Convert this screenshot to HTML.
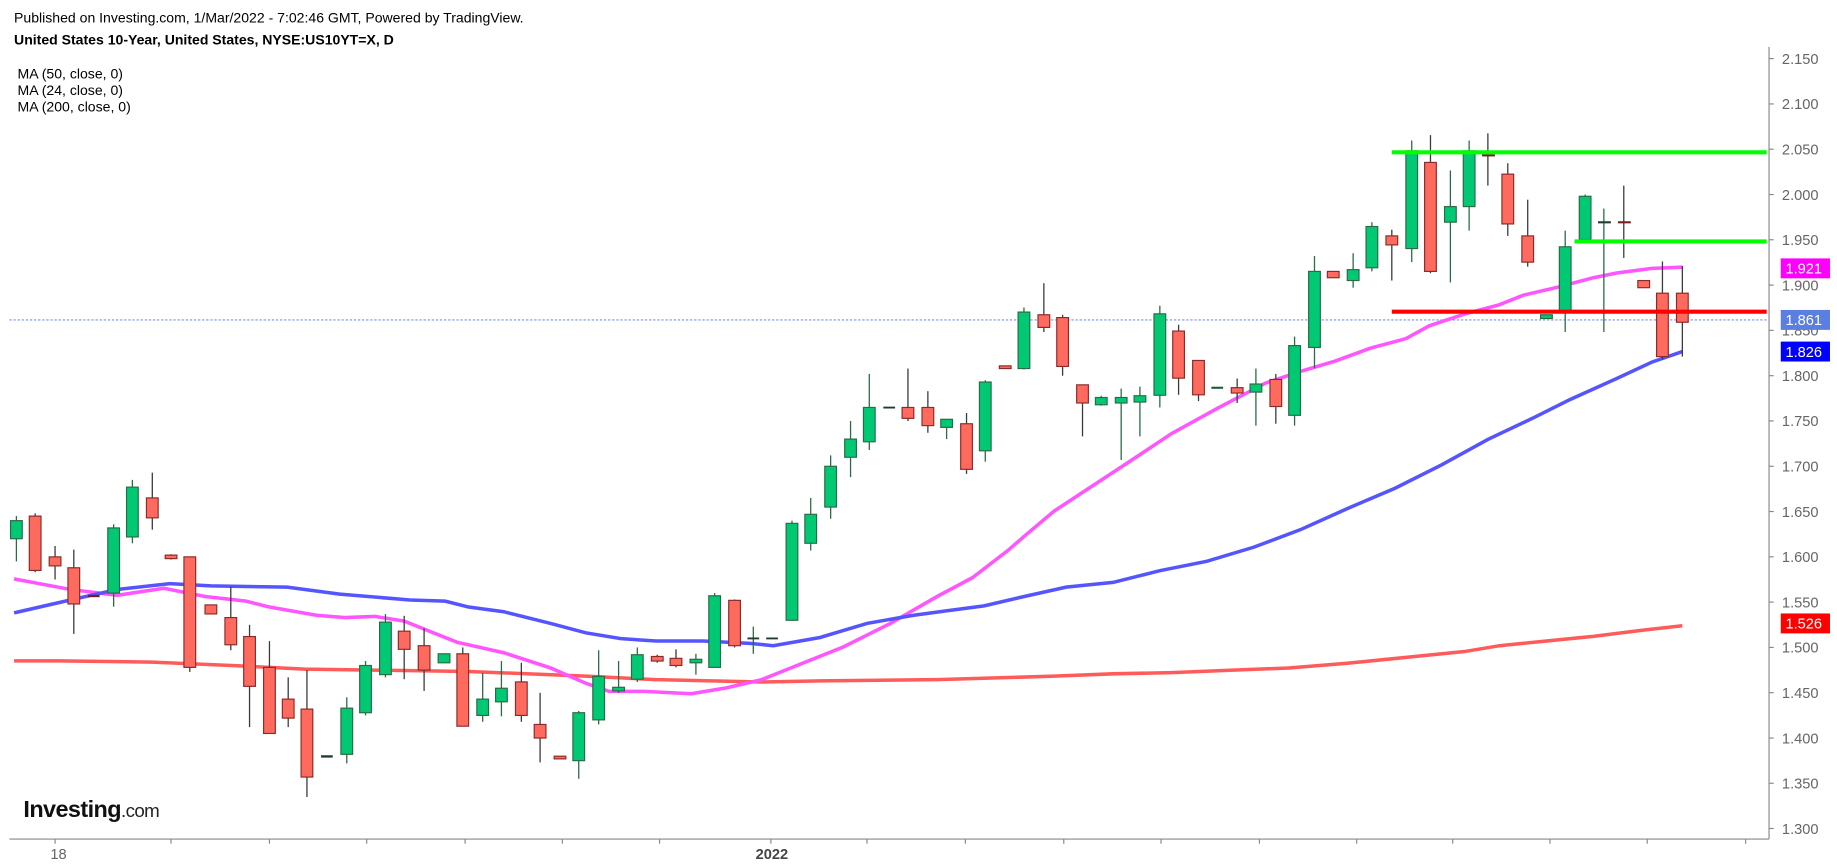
<!DOCTYPE html>
<html><head><meta charset="utf-8"><style>
html,body{margin:0;padding:0;background:#fff;}
svg{display:block;font-family:"Liberation Sans",Arial,sans-serif;}
.w{stroke-width:1.2}
.g{fill:#00c873;stroke:#2a6b45;stroke-width:1}
.r{fill:#ff6a5f;stroke:#8b2a2a;stroke-width:1}
.gw{stroke:#2a6b45;stroke-width:1.1}
.rw{stroke:#3a3a3a;stroke-width:1.1}
.ax{fill:#666;font-size:12.5px}
</style></head><body>
<svg width="1837" height="866" viewBox="0 0 1568 739" preserveAspectRatio="none" xmlns="http://www.w3.org/2000/svg">
<rect width="1568" height="739" fill="#fff"/>
<text x="12" y="19" font-size="12" fill="#000">Published on Investing.com, 1/Mar/2022 - 7:02:46 GMT, Powered by TradingView.</text>
<text x="12" y="38" font-size="12" font-weight="bold" fill="#000">United States 10-Year, United States, NYSE:US10YT=X, D</text>
<text x="15" y="67" font-size="12" fill="#000">MA (50, close, 0)</text>
<text x="15" y="81" font-size="12" fill="#000">MA (24, close, 0)</text>
<text x="15" y="95" font-size="12" fill="#000">MA (200, close, 0)</text>

<!-- axes -->
<line x1="1510" y1="40" x2="1510" y2="716" stroke="#888" stroke-width="1"/>
<line x1="8" y1="716" x2="1510" y2="716" stroke="#888" stroke-width="1"/>
<g stroke="#888">
<line x1="1510" y1="50" x2="1514" y2="50"/><line x1="1510" y1="88.7" x2="1514" y2="88.7"/><line x1="1510" y1="127.3" x2="1514" y2="127.3"/><line x1="1510" y1="166" x2="1514" y2="166"/><line x1="1510" y1="204.6" x2="1514" y2="204.6"/><line x1="1510" y1="243.3" x2="1514" y2="243.3"/><line x1="1510" y1="281.9" x2="1514" y2="281.9"/><line x1="1510" y1="320.6" x2="1514" y2="320.6"/><line x1="1510" y1="359.2" x2="1514" y2="359.2"/><line x1="1510" y1="397.9" x2="1514" y2="397.9"/><line x1="1510" y1="436.5" x2="1514" y2="436.5"/><line x1="1510" y1="475.2" x2="1514" y2="475.2"/><line x1="1510" y1="513.8" x2="1514" y2="513.8"/><line x1="1510" y1="552.5" x2="1514" y2="552.5"/><line x1="1510" y1="591.1" x2="1514" y2="591.1"/><line x1="1510" y1="629.8" x2="1514" y2="629.8"/><line x1="1510" y1="668.4" x2="1514" y2="668.4"/><line x1="1510" y1="707" x2="1514" y2="707"/>
<line x1="47" y1="716" x2="47" y2="720"/><line x1="146" y1="716" x2="146" y2="720"/><line x1="230" y1="716" x2="230" y2="720"/><line x1="313" y1="716" x2="313" y2="720"/><line x1="397" y1="716" x2="397" y2="720"/><line x1="480" y1="716" x2="480" y2="720"/><line x1="563" y1="716" x2="563" y2="720"/><line x1="658" y1="716" x2="658" y2="720"/><line x1="740" y1="716" x2="740" y2="720"/><line x1="824" y1="716" x2="824" y2="720"/><line x1="908" y1="716" x2="908" y2="720"/><line x1="991" y1="716" x2="991" y2="720"/><line x1="1075" y1="716" x2="1075" y2="720"/><line x1="1158" y1="716" x2="1158" y2="720"/><line x1="1240" y1="716" x2="1240" y2="720"/><line x1="1323" y1="716" x2="1323" y2="720"/><line x1="1406" y1="716" x2="1406" y2="720"/><line x1="1490" y1="716" x2="1490" y2="720"/>
</g>
<g class="ax">
<text x="1521" y="54.5">2.150</text><text x="1521" y="93">2.100</text><text x="1521" y="131.8">2.050</text><text x="1521" y="170.5">2.000</text><text x="1521" y="209">1.950</text><text x="1521" y="247.8">1.900</text><text x="1521" y="286.4">1.850</text><text x="1521" y="325">1.800</text><text x="1521" y="363.7">1.750</text><text x="1521" y="402.4">1.700</text><text x="1521" y="441">1.650</text><text x="1521" y="479.7">1.600</text><text x="1521" y="518.3">1.550</text><text x="1521" y="557">1.500</text><text x="1521" y="595.6">1.450</text><text x="1521" y="634.3">1.400</text><text x="1521" y="672.9">1.350</text><text x="1521" y="711.5">1.300</text>
<text x="43" y="733">18</text>
<text x="645" y="733" font-weight="bold" fill="#444">2022</text>
</g>

<!-- dotted last price -->
<line x1="8" y1="273" x2="1510" y2="273" stroke="#7a90ee" stroke-width="1" stroke-dasharray="2,1.5"/>

<!-- MAs -->
<polyline fill="none" stroke="#ff5b5b" stroke-width="3" points="12,564 50,564 130,565 200,568 260,571 330,572 400,573 500,577 560,580 650,582 700,581 800,580 900,577 950,575 1000,574 1050,572 1100,570 1150,566 1200,561 1250,556 1280,551 1320,547 1360,543 1400,538 1436,534"/>
<polyline fill="none" stroke="#ff55ff" stroke-width="3" points="12,494 60,503 100,508 140,502 175,509 210,513 230,518 270,525 295,527 320,526 345,530 390,548 430,557 470,570 500,583 520,590 550,590 590,592 620,587 650,580 680,568 720,552 760,532 800,509 830,493 860,470 875,457 900,436 935,413 970,390 1000,370 1040,348 1080,327 1110,317 1140,308 1170,297 1200,289 1220,278 1250,268 1280,260 1300,252 1330,245 1360,237 1380,233 1410,229 1436,228"/>
<polyline fill="none" stroke="#5555ff" stroke-width="3" points="12,523 60,512 100,503 145,498 180,500 245,501 290,507 350,512 380,513 400,518 430,522 470,532 500,540 530,545 560,547 600,547 640,549 660,551 700,544 740,532 780,525 810,521 840,517 870,510 910,501 950,497 970,492 990,487 1030,479 1070,467 1110,452 1150,434 1190,417 1230,397 1270,375 1310,356 1340,341 1380,323 1410,309 1436,300"/>

<!-- candles -->
<g>
<line class="gw" x1="14" y1="440.4" x2="14" y2="479.1"/><rect class="g" x="9" y="444.3" width="10" height="15.4"/>
<line class="rw" x1="30" y1="438.1" x2="30" y2="488.3"/><rect class="r" x="25" y="440.4" width="10" height="46.4"/>
<line class="rw" x1="47" y1="465.9" x2="47" y2="494.5"/><rect class="r" x="42" y="475.2" width="10" height="7.7"/>
<line class="rw" x1="63" y1="469" x2="63" y2="540.9"/><rect class="r" x="58" y="484.5" width="10" height="30.9"/>
<rect x="75" y="507.6" width="10" height="2" fill="#7a1f1f"/>
<line class="gw" x1="97" y1="447.4" x2="97" y2="517.7"/><rect class="g" x="92" y="450.5" width="10" height="55.6"/>
<line class="gw" x1="113" y1="409.5" x2="113" y2="463.6"/><rect class="g" x="108" y="415.7" width="10" height="42.5"/>
<line class="rw" x1="130" y1="403.3" x2="130" y2="452"/><rect class="r" x="125" y="424.9" width="10" height="17"/>
<line class="rw" x1="146" y1="472.9" x2="146" y2="477.5"/><rect class="r" x="141" y="473.7" width="10" height="3"/>
<line class="rw" x1="162" y1="475.2" x2="162" y2="573.4"/><rect class="r" x="157" y="475.2" width="10" height="94.3"/>
<rect class="r" x="175" y="516.2" width="10" height="7.7"/>
<line class="rw" x1="197" y1="500.7" x2="197" y2="554.9"/><rect class="r" x="192" y="527" width="10" height="23.2"/>
<line class="rw" x1="213" y1="533.2" x2="213" y2="620.5"/><rect class="r" x="208" y="543.2" width="10" height="42.5"/>
<line class="rw" x1="230" y1="547.1" x2="230" y2="625.9"/><rect class="r" x="225" y="569.5" width="10" height="56.4"/>
<line class="rw" x1="246" y1="578" x2="246" y2="620.5"/><rect class="r" x="241" y="596.6" width="10" height="16.2"/>
<line class="rw" x1="262" y1="571.8" x2="262" y2="680.1"/><rect class="r" x="257" y="605.1" width="10" height="58"/>
<rect x="274" y="644.5" width="10" height="2" fill="#1f3d2a"/>
<line class="gw" x1="296" y1="595" x2="296" y2="651.4"/><rect class="g" x="291" y="604.3" width="10" height="39.4"/>
<line class="gw" x1="312" y1="564.1" x2="312" y2="610.5"/><rect class="g" x="307" y="567.9" width="10" height="40.3"/>
<line class="gw" x1="329" y1="524" x2="329" y2="578"/><rect class="g" x="324" y="530.9" width="10" height="44.8"/>
<line class="rw" x1="345" y1="525.5" x2="345" y2="579.6"/><rect class="r" x="340" y="538.6" width="10" height="15.5"/>
<line class="rw" x1="362" y1="536.3" x2="362" y2="589.6"/><rect class="r" x="357" y="551" width="10" height="20.8"/>
<rect class="g" x="374" y="557.9" width="10" height="7.7"/>
<line class="rw" x1="395" y1="552.5" x2="395" y2="619.7"/><rect class="r" x="390" y="557.9" width="10" height="61.8"/>
<line class="gw" x1="412" y1="574.1" x2="412" y2="615.9"/><rect class="g" x="407" y="596.6" width="10" height="13.9"/>
<line class="gw" x1="428" y1="564.1" x2="428" y2="611.3"/><rect class="g" x="423" y="587.3" width="10" height="11.6"/>
<line class="rw" x1="445" y1="565.6" x2="445" y2="615.9"/><rect class="r" x="440" y="581.9" width="10" height="28.6"/>
<line class="rw" x1="461" y1="591.2" x2="461" y2="650.6"/><rect class="r" x="456" y="618.2" width="10" height="11.6"/>
<rect class="r" x="473" y="645.3" width="10" height="2.3"/>
<line class="gw" x1="494" y1="606.7" x2="494" y2="664.6"/><rect class="g" x="489" y="608.2" width="10" height="40.9"/>
<line class="gw" x1="511" y1="554.9" x2="511" y2="618.2"/><rect class="g" x="506" y="577.2" width="10" height="37.1"/>
<line class="gw" x1="528" y1="564.1" x2="528" y2="591.2"/><rect class="g" x="523" y="586.5" width="10" height="3.1"/>
<line class="gw" x1="544" y1="552.5" x2="544" y2="581.9"/><rect class="g" x="539" y="558.7" width="10" height="20.9"/>
<line class="rw" x1="561" y1="558.7" x2="561" y2="565.6"/><rect class="r" x="556" y="560.2" width="10" height="3.9"/>
<line class="rw" x1="577" y1="554.1" x2="577" y2="569.5"/><rect class="r" x="572" y="561.8" width="10" height="6.1"/>
<line class="gw" x1="594" y1="557.9" x2="594" y2="575.7"/><rect class="g" x="589" y="562.6" width="10" height="3"/>
<line class="gw" x1="610" y1="506.1" x2="610" y2="569.5"/><rect class="g" x="605" y="508.4" width="10" height="61.1"/>
<line class="rw" x1="627" y1="511.5" x2="627" y2="552.5"/><rect class="r" x="622" y="512.3" width="10" height="38.7"/>
<line class="gw" x1="643" y1="534.7" x2="643" y2="557.9"/><rect x="638" y="544" width="10" height="1.6" fill="#1f3d2a"/>
<rect x="654" y="544" width="10" height="1.6" fill="#1f3d2a"/>
<line class="gw" x1="676" y1="444.3" x2="676" y2="529.3"/><rect class="g" x="671" y="446.6" width="10" height="82.7"/>
<line class="gw" x1="692" y1="424.9" x2="692" y2="469.8"/><rect class="g" x="687" y="438.9" width="10" height="24.7"/>
<line class="gw" x1="709" y1="388.6" x2="709" y2="442.7"/><rect class="g" x="704" y="397.9" width="10" height="34.8"/>
<line class="gw" x1="726" y1="359.3" x2="726" y2="407.2"/><rect class="g" x="721" y="374.7" width="10" height="15.5"/>
<line class="gw" x1="742" y1="319.1" x2="742" y2="384"/><rect class="g" x="737" y="347.7" width="10" height="29.3"/>
<rect x="754" y="347" width="10" height="1.6" fill="#1f3d2a"/>
<line class="rw" x1="775" y1="314.5" x2="775" y2="359.3"/><rect class="r" x="770" y="347.7" width="10" height="9.3"/>
<line class="rw" x1="792" y1="333.8" x2="792" y2="369.3"/><rect class="r" x="787" y="347.7" width="10" height="15.5"/>
<line class="gw" x1="808" y1="357.8" x2="808" y2="374.7"/><rect class="g" x="803" y="357.8" width="10" height="6.9"/>
<line class="rw" x1="825" y1="352.4" x2="825" y2="404.4"/><rect class="r" x="820" y="361.6" width="10" height="38.9"/>
<line class="gw" x1="841" y1="324.5" x2="841" y2="394"/><rect class="g" x="836" y="326" width="10" height="58.7"/>
<rect class="r" x="853" y="312.2" width="10" height="2.3"/>
<line class="gw" x1="874" y1="262.4" x2="874" y2="315.3"/><rect class="g" x="869" y="266.3" width="10" height="48.2"/>
<line class="rw" x1="891" y1="241.7" x2="891" y2="283.3"/><rect class="r" x="886" y="268.6" width="10" height="10.8"/>
<line class="rw" x1="907" y1="268.6" x2="907" y2="320.6"/><rect class="r" x="902" y="271" width="10" height="41.7"/>
<line class="rw" x1="924" y1="328.4" x2="924" y2="372.4"/><rect class="r" x="919" y="328.4" width="10" height="15.5"/>
<line class="gw" x1="940" y1="337.7" x2="940" y2="346.2"/><rect class="g" x="935" y="339.2" width="10" height="6.2"/>
<line class="gw" x1="957" y1="331.6" x2="957" y2="392.5"/><rect class="g" x="952" y="339.2" width="10" height="4.7"/>
<line class="gw" x1="973" y1="330" x2="973" y2="372.4"/><rect class="g" x="968" y="337.7" width="10" height="5.4"/>
<line class="gw" x1="990" y1="260.9" x2="990" y2="347.7"/><rect class="g" x="985" y="267.8" width="10" height="69.5"/>
<line class="rw" x1="1006" y1="277.1" x2="1006" y2="336.9"/><rect class="r" x="1001" y="282.5" width="10" height="40.2"/>
<line class="rw" x1="1023" y1="307.6" x2="1023" y2="342.3"/><rect class="r" x="1018" y="307.6" width="10" height="29.3"/>
<rect x="1034" y="330" width="10" height="1.8" fill="#1f5d3a"/>
<line class="rw" x1="1056" y1="323" x2="1056" y2="343.9"/><rect class="r" x="1051" y="330.8" width="10" height="4.6"/>
<line class="gw" x1="1072" y1="314.5" x2="1072" y2="363.2"/><rect class="g" x="1067" y="327.7" width="10" height="6.9"/>
<line class="rw" x1="1089" y1="319.1" x2="1089" y2="361.6"/><rect class="r" x="1084" y="323.8" width="10" height="23.1"/>
<line class="gw" x1="1105" y1="287.2" x2="1105" y2="363.2"/><rect class="g" x="1100" y="294.9" width="10" height="59.5"/>
<line class="gw" x1="1122" y1="218.5" x2="1122" y2="314.2"/><rect class="g" x="1117" y="231.6" width="10" height="64.9"/>
<rect class="r" x="1133" y="231.6" width="10" height="5.4"/>
<line class="gw" x1="1155" y1="216.1" x2="1155" y2="245.5"/><rect class="g" x="1150" y="230.1" width="10" height="9.3"/>
<line class="gw" x1="1171" y1="189.6" x2="1171" y2="231.6"/><rect class="g" x="1166" y="193.3" width="10" height="35.2"/>
<line class="rw" x1="1188" y1="196" x2="1188" y2="239.4"/><rect class="r" x="1183" y="201.3" width="10" height="7.7"/>
<line class="gw" x1="1205" y1="119.9" x2="1205" y2="223.7"/><rect class="g" x="1200" y="128.7" width="10" height="83.4"/>
<line class="rw" x1="1221" y1="115.3" x2="1221" y2="233.2"/><rect class="r" x="1216" y="138.6" width="10" height="93"/>
<line class="gw" x1="1238" y1="145.5" x2="1238" y2="241"/><rect class="g" x="1233" y="176.3" width="10" height="13.3"/>
<line class="gw" x1="1254" y1="119.9" x2="1254" y2="196.8"/><rect class="g" x="1249" y="128.7" width="10" height="47.6"/>
<line class="rw" x1="1270" y1="113.8" x2="1270" y2="158.4"/><rect x="1265" y="131.7" width="11" height="1.8" fill="#7a1f1f"/>
<line class="rw" x1="1287" y1="139.3" x2="1287" y2="201.3"/><rect class="r" x="1282" y="148.6" width="10" height="42.5"/>
<line class="rw" x1="1304" y1="170.4" x2="1304" y2="227.6"/><rect class="r" x="1299" y="201.3" width="10" height="22.4"/>
<rect class="g" x="1315" y="268.6" width="10" height="3.2"/>
<line class="gw" x1="1336" y1="196.8" x2="1336" y2="283.3"/><rect class="g" x="1331" y="210.6" width="10" height="55.7"/>
<line class="gw" x1="1353" y1="166" x2="1353" y2="204.4"/><rect class="g" x="1348" y="167.5" width="10" height="36.9"/>
<line class="gw" x1="1369" y1="178" x2="1369" y2="283.3"/><rect x="1364" y="188.8" width="11" height="1.8" fill="#1f3d2a"/>
<line class="rw" x1="1386" y1="158.4" x2="1386" y2="220.1"/><rect x="1381" y="188.8" width="11" height="1.8" fill="#7a1f1f"/>
<rect class="r" x="1398" y="239.4" width="10" height="6.1"/>
<line class="rw" x1="1419" y1="223.1" x2="1419" y2="306.6"/><rect class="r" x="1414" y="250.2" width="10" height="54.1"/>
<line class="rw" x1="1436" y1="227" x2="1436" y2="304.3"/><rect class="r" x="1431" y="250.2" width="10" height="24.8"/>
</g>

<!-- drawn lines -->
<line x1="1188" y1="130" x2="1508" y2="130" stroke="#00ff00" stroke-width="3.5"/>
<line x1="1344" y1="206" x2="1508" y2="206" stroke="#00ff00" stroke-width="3.5"/>
<line x1="1188" y1="266" x2="1508" y2="266" stroke="#ff0000" stroke-width="3.5"/>

<!-- price tags -->
<rect x="1520" y="220.5" width="42" height="17" fill="#ff00ff"/><text x="1524" y="233.5" font-size="12.5" fill="#fff">1.921</text>
<rect x="1520" y="264.5" width="42" height="17" fill="#5b7fe0"/><text x="1524" y="277.5" font-size="12.5" fill="#fff">1.861</text>
<rect x="1520" y="291.5" width="42" height="17" fill="#0000ff"/><text x="1524" y="304.5" font-size="12.5" fill="#fff">1.826</text>
<rect x="1520" y="523.5" width="42" height="17" fill="#ff0000"/><text x="1524" y="536.5" font-size="12.5" fill="#fff">1.526</text>

<!-- logo -->
<text x="20" y="697" font-size="20" font-weight="bold" fill="#111" letter-spacing="-0.5">Investing<tspan font-weight="normal" font-size="16" fill="#222">.com</tspan></text>
</svg>
</body></html>
